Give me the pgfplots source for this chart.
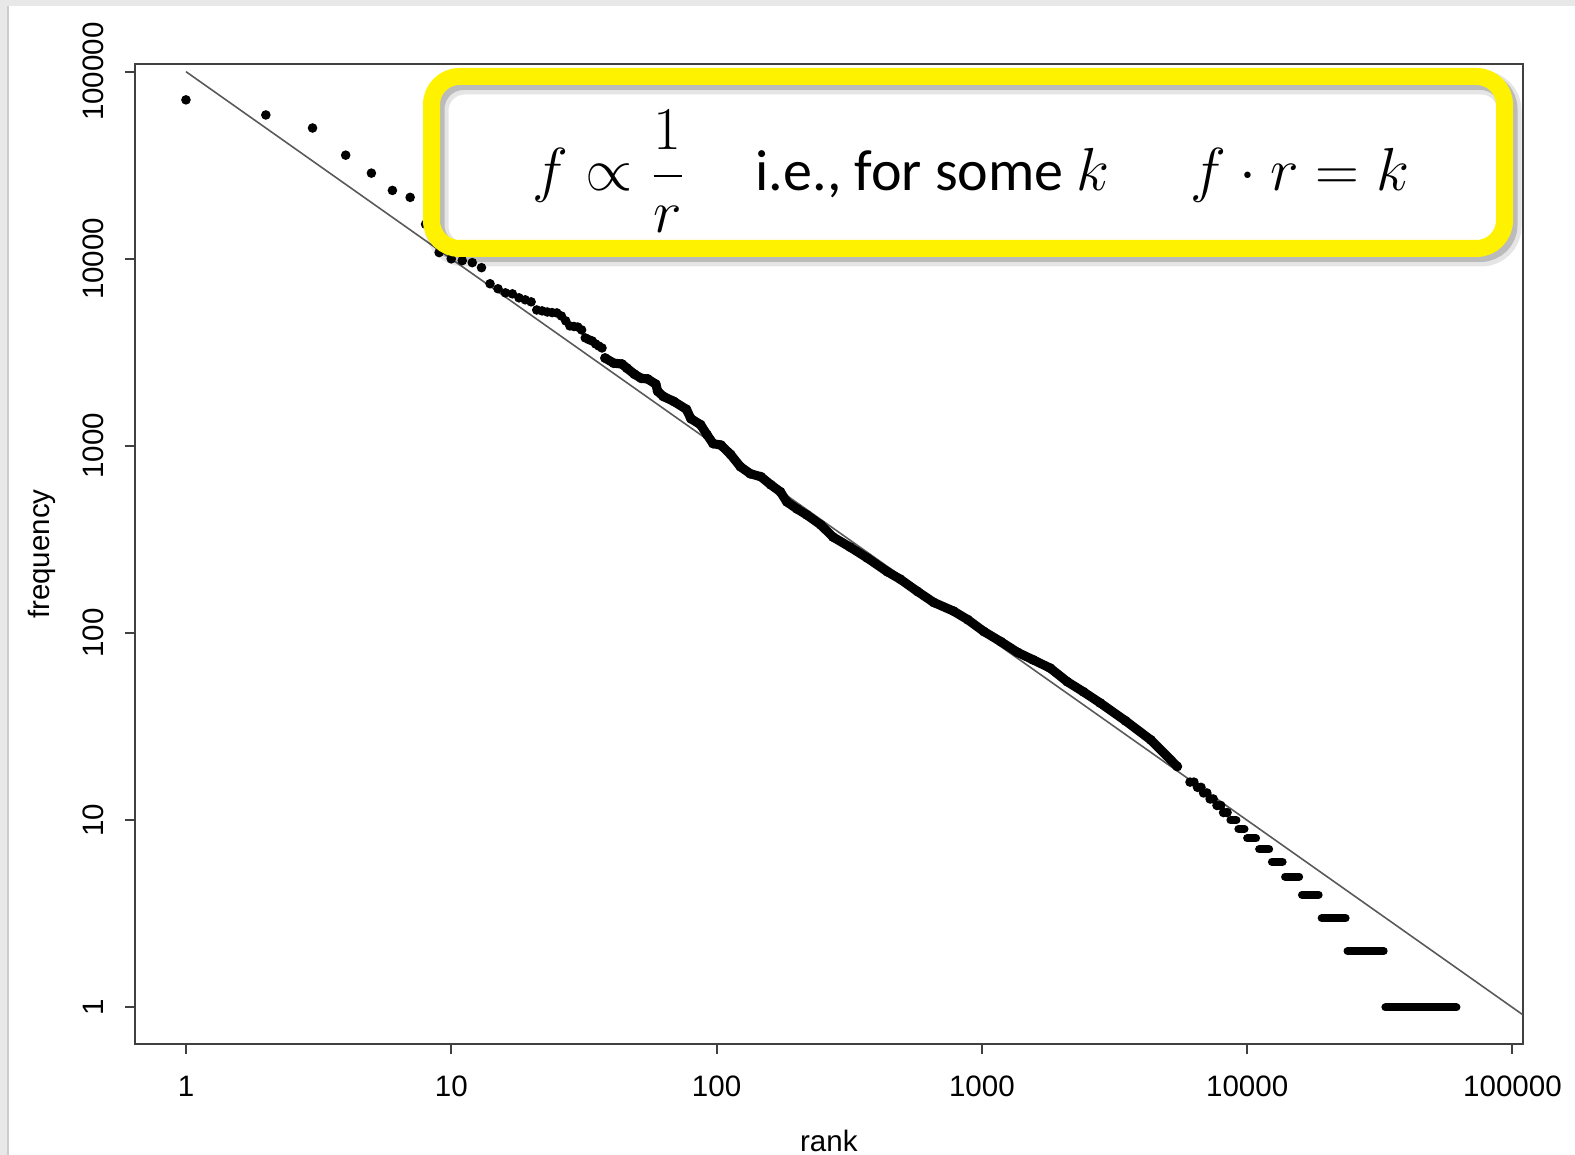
\documentclass[border=0pt]{standalone}
\usepackage{fontspec}
\setmainfont{Liberation Sans}
\newfontfamily\calibri{Carlito}
\usepackage{pgfplots}
\pgfplotsset{compat=1.18}
\usepackage{pgfplotstable}

% rank / frequency
\pgfplotstableread{
r f
1 70700
2 58700
3 50000
4 35800
5 28700
6 23200
7 21300
8 15300
9 10800
10 10000
11 9780
12 9540
13 8970
14 7360
15 6920
16 6580
17 6500
18 6190
19 6040
20 5890
21 5330
22 5270
23 5200
24 5160
25 5140
26 4950
27 4660
28 4380
29 4350
30 4320
31 4170
32 3780
33 3700
34 3640
35 3510
36 3420
37 3340
6090 16
6300 16
6500 15
6700 15
6850 14
7050 14
7250 13
7450 13
7700 12
7950 12
8150 11
8400 11
}\zipfdots

\pgfplotstableread{
r f
38 2950
41 2770
44 2740
46 2600
49 2420
52 2300
55 2280
59 2140
60 1960
63 1840
69 1730
77 1570
80 1400
87 1300
92 1150
97 1030
104 1010
113 900
123 775
134 711
147 685
160 621
174 569
184 503
201 461
219 428
247 379
275 326
319 288
370 252
440 213
493 194
572 167
658 146
783 131
885 118
1018 102
1180 90
1362 79
1561 72
1811 65
2100 55
2414 48.6
2790 42.4
3480 34
4330 26.9
5450 19.4
}\zipfband

% runs of equal frequency in the tail
\pgfplotstableread{
r f
8650 10
9110 10
nan nan
9270 9
9770 9
nan nan
10000 8
10800 8
nan nan
11100 7
12100 7
nan nan
12400 6
13600 6
nan nan
13900 5
15700 5
nan nan
16100 4
18600 4
nan nan
19100 3
23500 3
nan nan
23900 2
32700 2
nan nan
33200 1
61500 1
}\zipfdash

\begin{document}
\begin{tikzpicture}
% screenshot frame
\fill[gray!18] (-1.35,-1.11) rectangle (14.40,10.44);
\fill[white] (-1.27,-1.11) rectangle (14.40,10.38);
\draw[gray!40, line width=0.4pt] (-1.27,-1.11) -- (-1.27,10.38);

\begin{axis}[
  scale only axis, width=13.877cm, height=9.797cm,
  xmode=log, ymode=log,
  xmin=0.6425, xmax=109300, ymin=0.638, ymax=109500,
  xtick={1,10,100,1000,10000,100000},
  xticklabels={1,10,100,1000,10000,100000},
  ytick={1,10,100,1000,10000,100000},
  yticklabels={1,10,100,1000,10000,100000},
  xminorticks=false, yminorticks=false,
  xtick pos=left, ytick pos=left,
  tick align=outside, major tick length=0.1cm,
  tick style={black!75, line width=0.55pt},
  axis line style={black!75, line width=0.55pt},
  tick label style={font=\fontsize{8.4}{10}\selectfont},
  label style={font=\fontsize{8.4}{10}\selectfont},
  xticklabel style={anchor=base}, xticklabel shift=0.43cm,
  yticklabel style={rotate=90, anchor=base}, yticklabel shift=0.215cm,
  xlabel={rank}, ylabel={frequency},
  xlabel style={at={(axis description cs:0.5,-0.1102)}, anchor=base},
  ylabel style={at={(axis description cs:-0.0613,0.5)}, anchor=base},
]
\addplot[black!65, line width=0.45pt] coordinates {(1,100000) (109300,0.915)};
\addplot[black, line width=2.6pt, line join=round, line cap=round] table {\zipfband};
\addplot[black, only marks, mark=*, mark size=1.2pt] table {\zipfband};
\addplot[black, only marks, mark=*, mark size=1.15pt] table {\zipfdots};
\addplot[black, line width=2.3pt, line cap=round, unbounded coords=jump] table {\zipfdash};
\end{axis}

% formula box
\fill[white, rounded corners=0.28cm] (2.965,7.955) rectangle (13.695,9.675);
\draw[black, opacity=0.10, line width=0.24cm, rounded corners=0.28cm] (3.015,7.895) rectangle (13.745,9.615);
\draw[black, opacity=0.18, line width=0.18cm, rounded corners=0.28cm] (3.005,7.91) rectangle (13.735,9.63);
\draw[yellow, line width=0.17cm, rounded corners=0.28cm] (2.965,7.955) rectangle (13.695,9.675);
\begin{scope}[every node/.style={anchor=base west, inner sep=0pt, font=\calibri\fontsize{16.5}{20}\selectfont}]
\node at (3.97,8.53) {$f \propto \displaystyle\frac{1}{r}$};
\node at (6.20,8.53) {i.e., for some $k$};
\node at (10.55,8.53) {$f \cdot r = k$};
\end{scope}

\pgfresetboundingbox
\useasboundingbox (-1.35,-1.11) rectangle (14.40,10.44);
\end{tikzpicture}
\end{document}
